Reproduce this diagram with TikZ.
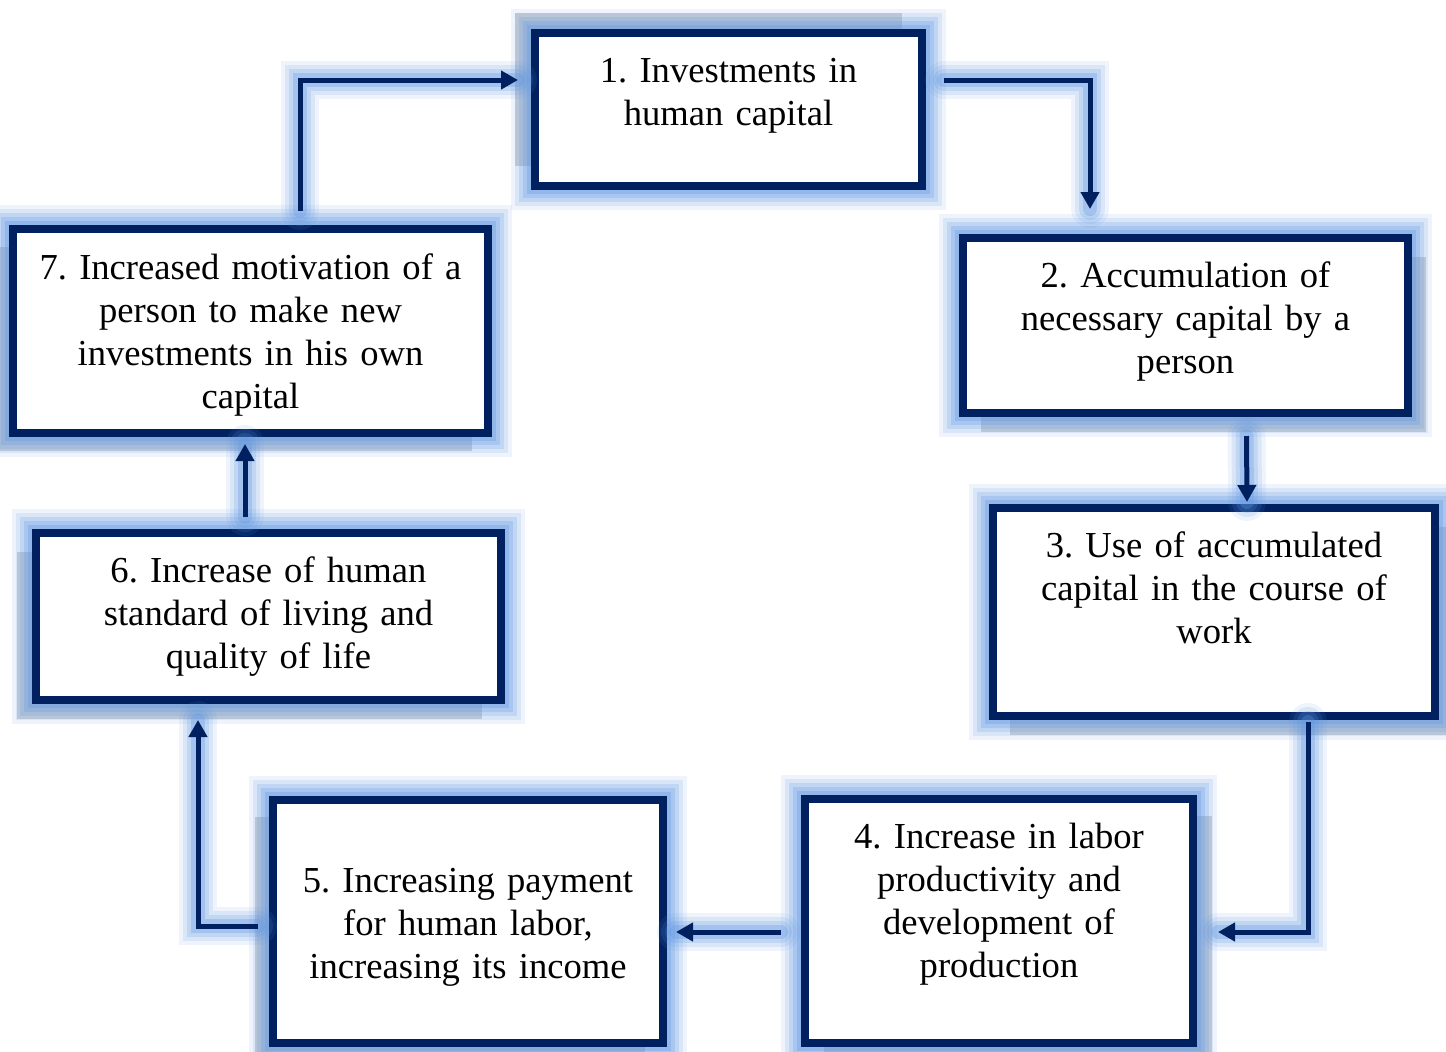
\documentclass[tikz,border=0pt]{standalone}
\usepackage{fontspec}
\setmainfont{Liberation Serif}
\usetikzlibrary{arrows.meta,calc,shadows}
\definecolor{navy}{RGB}{0,32,96}
\definecolor{glowblue}{RGB}{95,150,225}
\frenchspacing

\begin{document}
\begin{tikzpicture}
  [x=0.5pt, y=-0.5pt,
   glow/.style={preaction={draw=glowblue, line width=24pt, opacity=.1},
                preaction={draw=glowblue, line width=20pt, opacity=.15},
                preaction={draw=glowblue, line width=16pt, opacity=.2},
                preaction={draw=glowblue, line width=12pt, opacity=.25},
                preaction={draw=glowblue, line width=8pt, opacity=.3}},
   lineglow/.style={preaction={-, draw=glowblue, line cap=round, line width=19pt, opacity=.1},
                    preaction={-, draw=glowblue, line cap=round, line width=15pt, opacity=.15},
                    preaction={-, draw=glowblue, line cap=round, line width=11pt, opacity=.2},
                    preaction={-, draw=glowblue, line cap=round, line width=7pt, opacity=.3}},
   shad/.style 2 args={drop shadow={shadow xshift=#1, shadow yshift=#2, opacity=.3, fill=black!55}},
   box/.style={rectangle, draw=navy, line width=4pt, fill=white, inner sep=0pt, glow},
   txt/.style={text width=240pt, align=center, anchor=base, inner sep=0pt,
               font=\fontsize{18.3pt}{21.5pt}\selectfont},
   conn/.style={lineglow, draw=navy, line width=2.5pt, -{Triangle[width=9pt,length=8.5pt]}}]

  \useasboundingbox (0,0) rectangle (1446,1051);

  %%%%%%%%%%%%%%%%%%%%%% BOXES %%%%%%%%%%%%%%%%%%%%%%

  \node[shad={-10pt}{10pt}, box, minimum width=193.5pt, minimum height=76.5pt] (box_1) at (728.5,109.5) {};
  \node[shad={9pt}{-9.5pt}, box, minimum width=222.5pt, minimum height=87.5pt] (box_2) at (1185.5,325.5) {};
  \node[shad={8.5pt}{-9.5pt}, box, minimum width=221pt, minimum height=104pt] (box_3) at (1214,612) {};
  \node[shad={9.5pt}{-8.5pt}, box, minimum width=194pt, minimum height=122pt] (box_4) at (999,921) {};
  \node[shad={-9pt}{-8.5pt}, box, minimum width=195pt, minimum height=121.5pt] (box_5) at (468,921.5) {};
  \node[shad={-9.5pt}{-9.5pt}, box, minimum width=232.5pt, minimum height=83.5pt] (box_6) at (268.5,616.5) {};
  \node[shad={-8pt}{-9pt}, box, minimum width=237.5pt, minimum height=102pt] (box_7) at (250.5,331) {};

  \node[txt] (txt_1) at (728.5,82)   {1. Investments in\\ human capital};
  \node[txt] (txt_2) at (1185.5,287) {2. Accumulation of\\ necessary capital by a\\ person};
  \node[txt] (txt_3) at (1214,557)   {3. Use of accumulated\\ capital in the course of\\ work};
  \node[txt] (txt_4) at (999,848)    {4. Increase in labor\\ productivity and\\ development of\\ production};
  \node[txt] (txt_5) at (468,892)    {5. Increasing payment\\ for human labor,\\ increasing its income};
  \node[txt] (txt_6) at (268.5,582)  {6. Increase of human\\ standard of living and\\ quality of life};
  \node[txt] (txt_7) at (250.5,279)  {7. Increased motivation of a\\ person to make new\\ investments in his own\\ capital};

  %%%%%%%%%%%%%%%%%%%%%% ARROWS %%%%%%%%%%%%%%%%%%%%%%

  \draw[conn] ($(box_1.east|-0,80)+(18,0)$) -| ($(box_2.north-|1090,0)+(0,-25)$);
  \draw[conn] ($(box_2.south)+(61,19)$) -- ($(box_3.north)+(33,-2)$);
  \draw[conn] ($(box_3.south)+(94,2)$) |- ($(box_4.east)+(21,11)$);
  \draw[conn] ($(box_4.west)+(-20,11)$) -- ($(box_5.east)+(9,10.5)$);
  \draw[conn] ($(box_5.west)+(-11,4.5)$) -| ($(box_6.south)+(-70.5,16)$);
  \draw[conn] ($(box_6.north)+(-23.5,-12)$) -- ($(box_7.south)+(-5.5,7)$);
  \draw[conn] ($(box_7.north)+(49.5,-14)$) |- ($(box_1.west)+(-13,-29.5)$);

\end{tikzpicture}
\end{document}
